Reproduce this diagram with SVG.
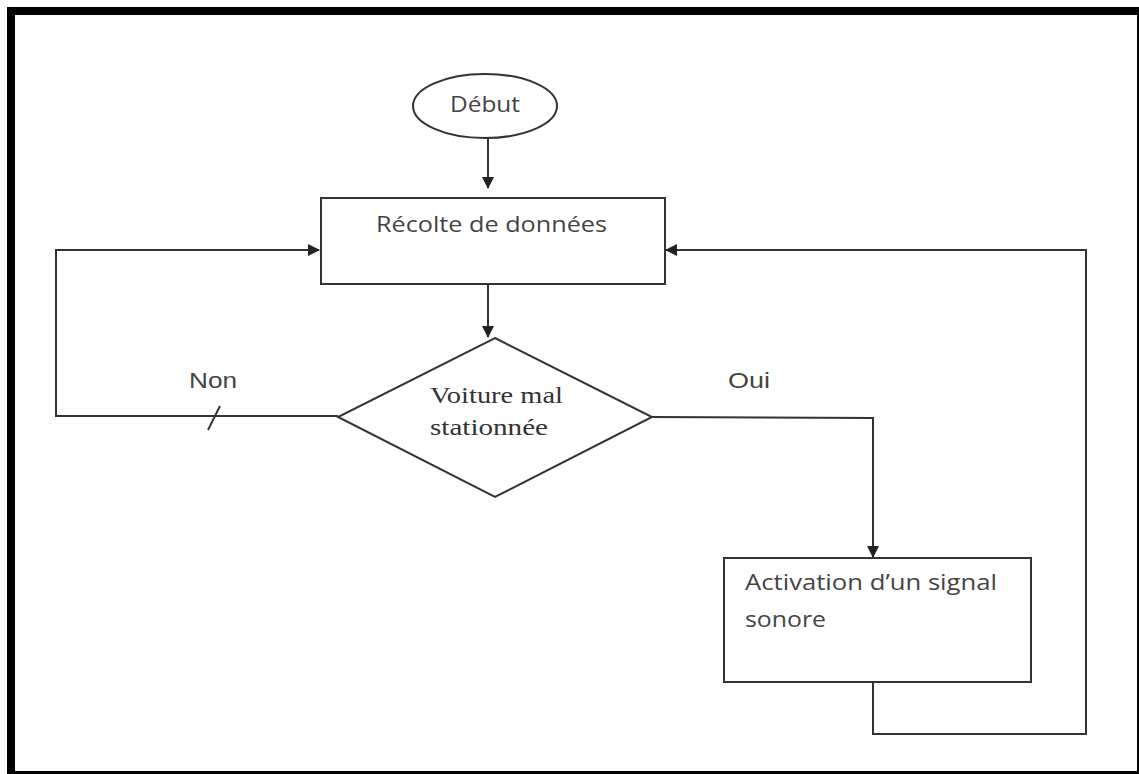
<svg xmlns="http://www.w3.org/2000/svg" width="1139" height="774" viewBox="0 0 1139 774">
  <style>
    .shape { fill: #ffffff; stroke: #333333; stroke-width: 2; }
    .wire { fill: none; stroke: #333333; stroke-width: 2; }
    .calibri { font-family: "Open Sans", "Liberation Sans", sans-serif; font-size: 21px; fill: #444444; }
    .serif { font-family: "Liberation Serif", "DejaVu Serif", serif; font-size: 23px; fill: #333333; }
    .label { font-family: "Liberation Sans", Arial, sans-serif; font-size: 22px; fill: #444444; }
  </style>
  <defs>
    <marker id="arrow" markerUnits="userSpaceOnUse" markerWidth="12" markerHeight="12" refX="11" refY="6" orient="auto">
      <path d="M0,0 L12,6 L0,12 Z" fill="#222222"/>
    </marker>
  </defs>

  <!-- page frame -->
  <rect x="7" y="7" width="1132" height="767" fill="#000000"/>
  <rect x="15" y="15" width="1122" height="756" fill="#ffffff"/>

  <!-- connectors -->
  <g id="connectors">
    <line class="wire" x1="488" y1="138" x2="488" y2="188" marker-end="url(#arrow)"/>
    <line class="wire" x1="488" y1="284" x2="488" y2="337" marker-end="url(#arrow)"/>
    <polyline class="wire" points="338,416 56,416 56,250 319,250" marker-end="url(#arrow)"/>
    <line class="wire" x1="220" y1="406" x2="208" y2="430"/>
    <polyline class="wire" points="652,417 873,418 873,557" marker-end="url(#arrow)"/>
    <polyline class="wire" points="873,682 873,734 1086,734 1086,250 666,250" marker-end="url(#arrow)"/>
    <text class="label" x="189" y="388" textLength="48" lengthAdjust="spacingAndGlyphs">Non</text>
    <text class="label" x="728" y="388" textLength="42" lengthAdjust="spacingAndGlyphs">Oui</text>
  </g>

  <g id="start">
    <ellipse class="shape" cx="485" cy="106" rx="72" ry="32"/>
    <text class="calibri" x="450" y="112" textLength="70" lengthAdjust="spacingAndGlyphs">Début</text>
  </g>

  <g id="collect">
    <rect class="shape" x="321" y="198" width="344" height="86"/>
    <text class="calibri" x="376" y="232" textLength="231" lengthAdjust="spacingAndGlyphs">Récolte de données</text>
  </g>

  <g id="decision">
    <polygon class="shape" points="495,338 652,417 495,497 338,417"/>
    <text class="serif" x="430" y="403" textLength="133" lengthAdjust="spacingAndGlyphs">Voiture mal</text>
    <text class="serif" x="430" y="435" textLength="118" lengthAdjust="spacingAndGlyphs">stationnée</text>
  </g>

  <g id="alarm">
    <rect class="shape" x="724" y="558" width="307" height="124"/>
    <text class="calibri" x="745" y="590" textLength="252" lengthAdjust="spacingAndGlyphs">Activation  d’un signal</text>
    <text class="calibri" x="745" y="627" textLength="81" lengthAdjust="spacingAndGlyphs">sonore</text>
  </g>
</svg>
